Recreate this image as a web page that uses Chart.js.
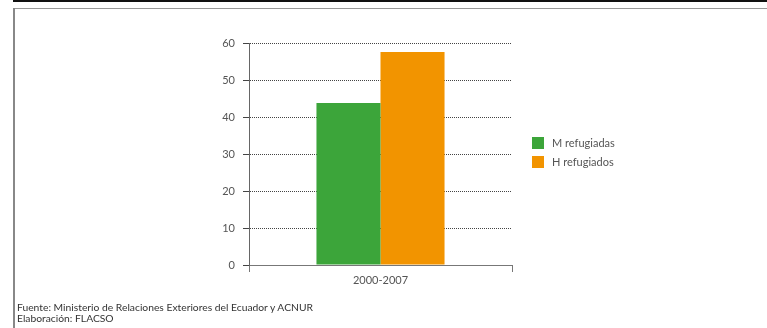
<!DOCTYPE html>
<html>
<head>
<meta charset="utf-8">
<script src="https://cdn.jsdelivr.net/npm/chart.js@4"></script>
<style>
    body { margin: 0; background: #fff; font-family: Lato, "DejaVu Sans", sans-serif; }
    .page { position: relative; width: 767px; height: 328px; overflow: hidden; }
    .topline { position: absolute; left: 13px; right: 0; top: 0; height: 2px; background: #111; }
    .boxtop { position: absolute; left: 13px; right: 0; top: 8px; height: 1px; background: #999; }
    .boxleft { position: absolute; left: 13px; top: 8px; bottom: 0; width: 2px; background: #888; }
    canvas { position: absolute; left: 0; top: 0; }
    .legend { position: absolute; left: 532px; top: 133px; font-size: 11px; color: #555; }
    .legend div { display: flex; align-items: center; height: 19px; }
    .legend span.sw { display: inline-block; width: 12px; height: 12px; margin-right: 8px; }
    .source { position: absolute; left: 17px; top: 302px; font-size: 10.3px; line-height: 11px; color: #333; }
</style>
</head>
<body>
<div class="page">
    <div class="topline"></div>
    <div class="boxtop"></div>
    <div class="boxleft"></div>
    <canvas id="chart" width="767" height="328"></canvas>
    <div class="legend" id="legend"></div>
    <div class="source">Fuente: Ministerio de Relaciones Exteriores del Ecuador y ACNUR<br>Elaboración: FLACSO</div>
</div>
<script>
// Data
const categories = ['2000-2007'];
const seriesNames = ['M refugiadas', 'H refugiados'];
const mujeres = [43.8];
const hombres = [57.6];
const yTicks = [0, 10, 20, 30, 40, 50, 60];
const colors = ['#3ca53a', '#f29400'];

// Legend
const legend = document.getElementById('legend');
seriesNames.forEach((name, i) => {
    const row = document.createElement('div');
    row.innerHTML = '<span class="sw" style="background:' + colors[i] + '"></span>' + name;
    legend.appendChild(row);
});

const ctx = document.getElementById('chart').getContext('2d');
new Chart(ctx, {
    type: 'bar',
    data: {
        labels: categories,
        datasets: [{
            label: seriesNames[0],
            data: mujeres,
            backgroundColor: colors[0]
        }, {
            label: seriesNames[1],
            data: hombres,
            backgroundColor: colors[1]
        }]
    },
    options: {
        responsive: false,
        animation: false,
        layout: { padding: { left: 200, right: 255, top: 43, bottom: 33 } },
        categoryPercentage: 0.487,
        barPercentage: 1,
        plugins: {
            legend: { display: false },
            tooltip: { enabled: false }
        },
        scales: {
            x: {
                afterFit: s => { s.height = 30; },
                grid: {
                    offset: true,
                    drawOnChartArea: false,
                    drawTicks: true,
                    tickLength: 7,
                    color: '#777'
                },
                border: { color: '#777', dash: [1, 1] },
                ticks: { color: '#555', font: { family: 'Lato', size: 11 }, padding: 2 }
            },
            y: {
                min: 0,
                max: 60,
                afterFit: s => { s.width = 49; },
                afterBuildTicks: s => { s.ticks = yTicks.map(v => ({ value: v })); },
                grid: {
                    color: '#444',
                    tickLength: 6,
                    lineWidth: 1
                },
                border: { color: '#666', dash: [1, 1] },
                ticks: { color: '#555', font: { family: 'Lato', size: 11 }, padding: 8 }
            }
        }
    }
});
</script>
</body>
</html>
